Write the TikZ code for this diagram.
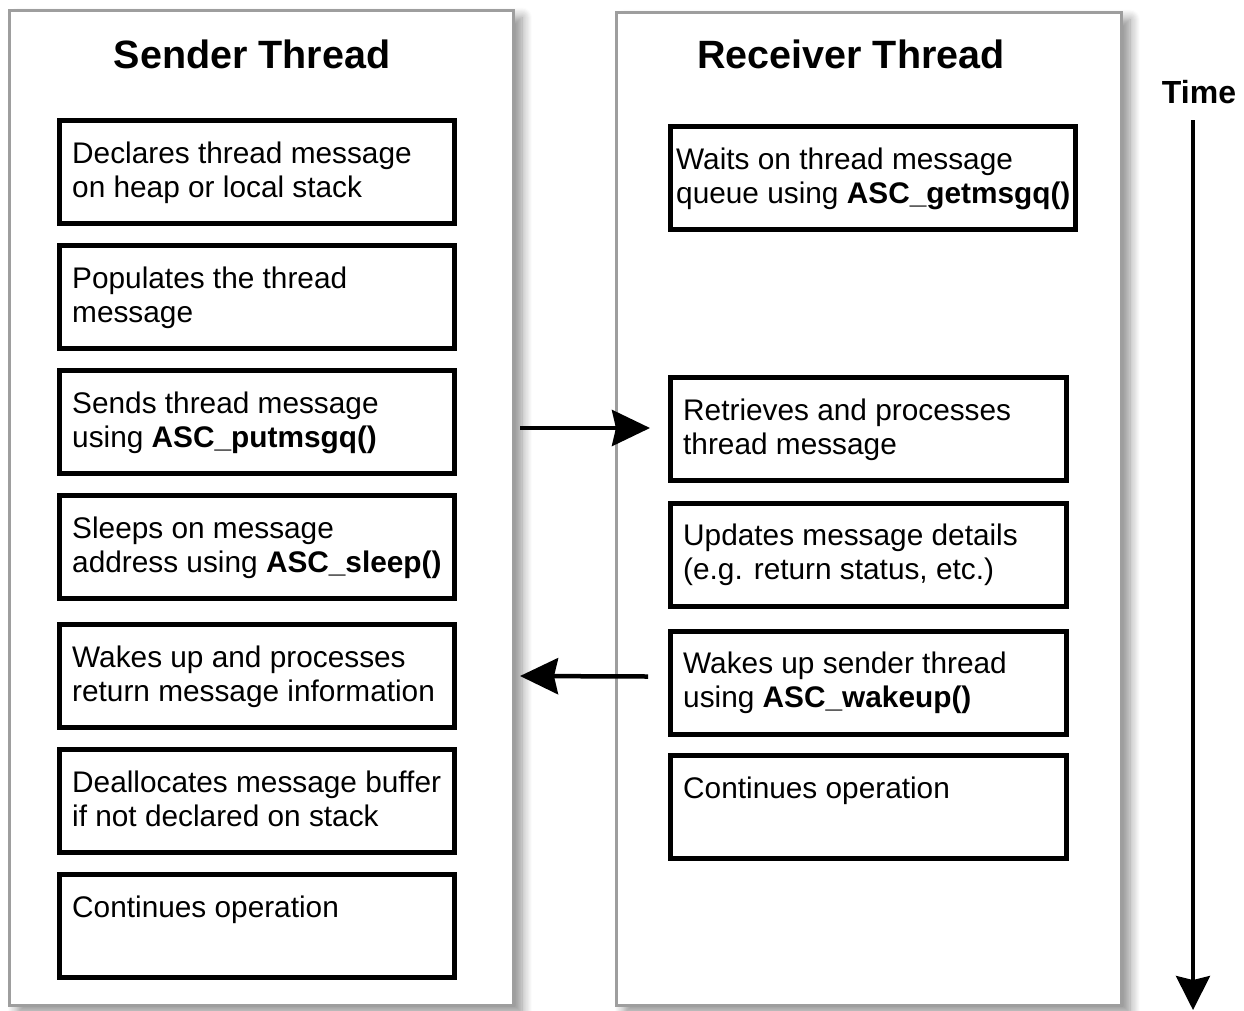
\documentclass[tikz,border=0pt]{standalone}
\usepackage{fontspec}
\setmainfont{Liberation Sans}
\usetikzlibrary{arrows.meta,shadows.blur,calc}

\tikzset{
  panel/.style={draw=black!38, line width=3pt, fill=white, inner sep=0pt,
    blur shadow={shadow xshift=9pt, shadow yshift=-7pt, shadow blur steps=10,
      shadow blur radius=10pt, shadow opacity=45}},
  stepbox/.style={draw=black, line width=5pt, fill=white, inner sep=0pt,
    minimum width=395pt, minimum height=103pt},
  rstepbox/.style={stepbox, minimum width=405pt},
  steptext/.style={anchor=north west, inner sep=0pt, align=left,
    font=\fontsize{29.8}{34}\selectfont},
  paneltitle/.style={anchor=base, inner sep=0pt, font=\fontsize{39.5}{44}\selectfont\bfseries},
  flow/.style={line width=4.5pt, -{Stealth[length=38pt, width=36pt, inset=4pt]}},
  timeline/.style={line width=3.5pt, -{Stealth[length=34pt, width=34pt, inset=4pt]}}
}

\newcommand{\fn}[1]{\textbf{#1}}

\begin{document}
\begin{tikzpicture}[x=1pt, y=-1pt]
  \useasboundingbox (0,0) rectangle (1244,1010);

  % thread panels
  \node[panel, minimum width=504pt, minimum height=995pt] (sender) at (261,508) {};
  \node[panel, minimum width=505pt, minimum height=993pt] (receiver) at (868.5,509) {};

  \node[paneltitle] (stitle) at (252,68) {Sender Thread};
  \node[paneltitle] (rtitle) at (851,68) {Receiver Thread};

  % sender steps
  \node[stepbox] (s1) at (257,172) {};
  \node[stepbox] (s2) at (257,297) {};
  \node[stepbox] (s3) at (257,422) {};
  \node[stepbox] (s4) at (257,547) {};
  \node[stepbox] (s5) at (257,676) {};
  \node[stepbox] (s6) at (257,801) {};
  \node[stepbox] (s7) at (257,926) {};

  \node[steptext] (t1) at ($(s1.north west)+(15,21)$) {\strut Declares thread message\\on heap or local stack};
  \node[steptext] (t2) at ($(s2.north west)+(15,21)$) {\strut Populates the thread\\message};
  \node[steptext] (t3) at ($(s3.north west)+(15,21)$) {\strut Sends thread message\\using \fn{ASC\_putmsgq()}};
  \node[steptext] (t4) at ($(s4.north west)+(15,21)$) {\strut Sleeps on message\\address using \fn{ASC\_sleep()}};
  \node[steptext] (t5) at ($(s5.north west)+(15,21)$) {\strut Wakes up and processes\\return message information};
  \node[steptext] (t6) at ($(s6.north west)+(15,21)$) {\strut Deallocates message buffer\\if not declared on stack};
  \node[steptext] (t7) at ($(s7.north west)+(15,21)$) {\strut Continues operation};

  % receiver steps
  \node[rstepbox, minimum width=405pt] (r1) at (873,178) {};
  \node[rstepbox, minimum width=396pt] (r2) at (868.5,429) {};
  \node[rstepbox, minimum width=396pt] (r3) at (868.5,554.5) {};
  \node[rstepbox, minimum width=396pt] (r4) at (868.5,682.5) {};
  \node[rstepbox, minimum width=396pt] (r5) at (868.5,807) {};

  \node[steptext] (u1) at ($(r1.north west)+(8,21)$) {\strut Waits on thread message\\queue using \fn{ASC\_getmsgq()}};
  \node[steptext] (u2) at ($(r2.north west)+(15,21)$) {\strut Retrieves and processes\\thread message};
  \node[steptext] (u3) at ($(r3.north west)+(15,21)$) {\strut Updates message details\\(e.g. return status, etc.)};
  \node[steptext] (u4) at ($(r4.north west)+(15,21)$) {\strut Wakes up sender thread\\using \fn{ASC\_wakeup()}};
  \node[steptext] (u5) at ($(r5.north west)+(15,21)$) {\strut Continues operation};

  % messages between the threads
  \draw[flow] ($(s3.east)+(63,6)$) -- ($(r2.west)+(-18,-1)$);
  \draw[flow] ($(r4.west)+(-20,-6)$) -- ($(s5.east)+(63,0)$);

  % time axis
  \node[anchor=base, inner sep=0pt, font=\fontsize{32}{36}\selectfont\bfseries] (time) at (1199,103) {Time};
  \coordinate (tstart) at (1193,120);
  \coordinate (tend) at (1193,1010);
  \draw[timeline] (tstart) -- (tend);
\end{tikzpicture}
\end{document}
